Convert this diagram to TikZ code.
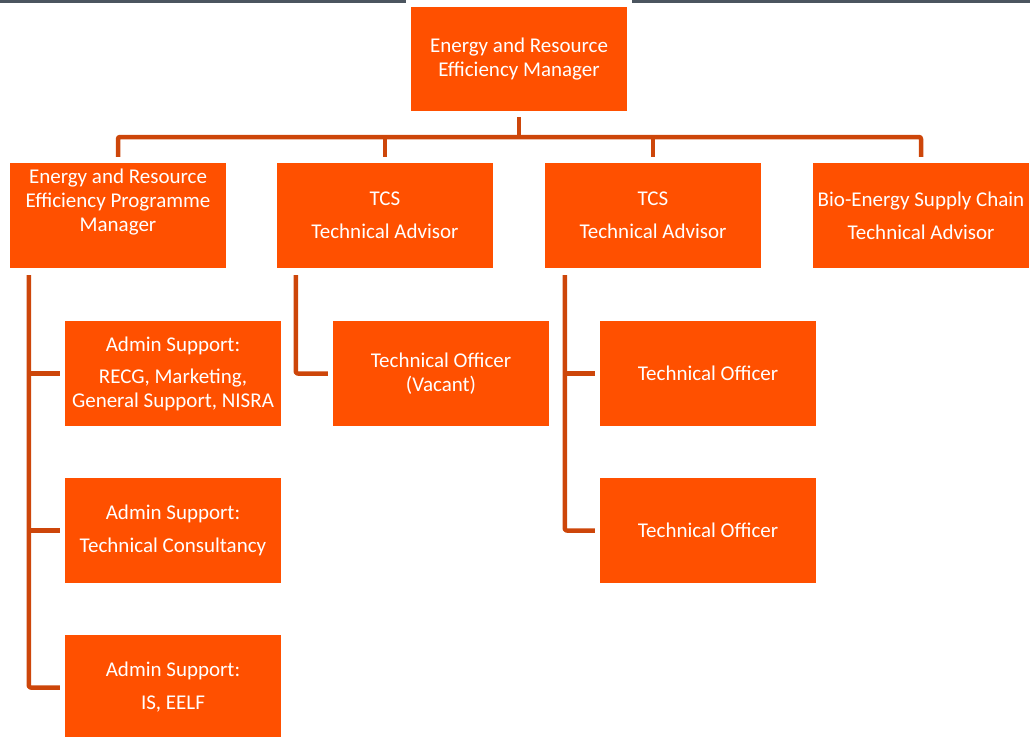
\documentclass[tikz,border=0pt]{standalone}
\usepackage{fontspec}
\setmainfont{Carlito}
\definecolor{boxorange}{RGB}{255,80,0}
\definecolor{lineorange}{RGB}{205,70,10}
\definecolor{edgegray}{RGB}{75,85,95}
\tikzset{
  box/.style={fill=boxorange, text=white, minimum width=216pt, minimum height=105pt,
    inner sep=2pt, align=center, font=\fontsize{21}{24}\selectfont},
  link/.style={draw=lineorange, line width=4.5pt, line join=round, rounded corners=2pt}
}
\begin{document}
\begin{tikzpicture}[x=1pt,y=-1pt]
        \useasboundingbox (0,0) rectangle (1030,736);
        \clip (0,0) rectangle (1030,736);
        \draw[edgegray, line width=3pt] (0,1.5) -- (406,1.5);
        \draw[edgegray, line width=3pt] (632,1.5) -- (1030,1.5);
        \node[box, minimum height=104pt] (erm) at (519,59) {Energy and Resource\\Efficiency Manager};
        \node[box, text depth=30pt] (prog) at (118,215.5) {Energy and Resource\\Efficiency Programme\\Manager};
        \node[box] (tcsa) at (385,215.5) {TCS\\[9pt]Technical Advisor};
        \node[box] (tcsb) at (653,215.5) {TCS\\[9pt]Technical Advisor};
        \node[box] (bio) at (921,215.5) {Bio-Energy Supply Chain\\[9pt]Technical Advisor};
        \node[box] (adm1) at (173,373.5) {Admin Support:\\[8pt]RECG, Marketing,\\General Support, NISRA};
        \node[box] (adm2) at (173,530.5) {Admin Support:\\[9pt]Technical Consultancy};
        \node[box] (adm3) at (173,687.5) {Admin Support:\\[9pt]IS, EELF};
        \node[box] (tovac) at (441,373.5) {Technical Officer\\(Vacant)};
        \node[box] (tofa) at (708,373.5) {Technical Officer};
        \node[box] (tofb) at (708,530.5) {Technical Officer};
        % top level connectors
        \coordinate (bus) at (519,137);
        \draw[link] ([yshift=-6pt]erm.south) -- (bus);
        \draw[link] ([yshift=6pt]prog.north) |- (bus) -| ([yshift=6pt]bio.north);
        \draw[link] (tcsa.north |- bus) -- ([yshift=6pt]tcsa.north);
        \draw[link] (tcsb.north |- bus) -- ([yshift=6pt]tcsb.north);
        \coordinate (spa) at ([xshift=19pt,yshift=-7pt]prog.south west);
        \draw[link] (spa) |- ([xshift=-5pt]adm3.west);
        \draw[link] (spa |- adm1.west) -- ([xshift=-5pt]adm1.west);
        \draw[link] (spa |- adm2.west) -- ([xshift=-5pt]adm2.west);
        \draw[link] ([xshift=19pt,yshift=-7pt]tcsa.south west) |- ([xshift=-5pt]tovac.west);
        \coordinate (spc) at ([xshift=20pt,yshift=-7pt]tcsb.south west);
        \draw[link] (spc) |- ([xshift=-5pt]tofb.west);
        \draw[link] (spc |- tofa.west) -- ([xshift=-5pt]tofa.west);
\end{tikzpicture}
\end{document}
